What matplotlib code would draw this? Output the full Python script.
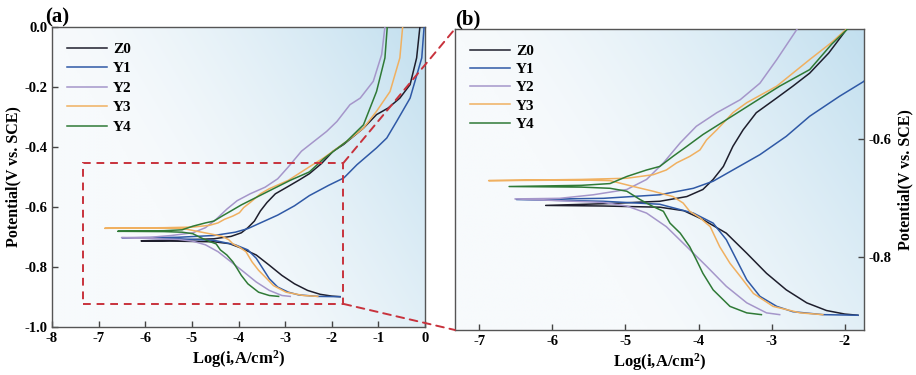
import numpy as np
import matplotlib
matplotlib.use('Agg')
import matplotlib.pyplot as plt
from matplotlib.patches import Rectangle, ConnectionPatch

plt.rcParams['font.family'] = ['Liberation Serif', 'DejaVu Serif']
plt.rcParams['font.weight'] = 'bold'
plt.rcParams['axes.labelweight'] = 'bold'
plt.rcParams['mathtext.fontset'] = 'custom'
plt.rcParams['mathtext.rm'] = 'Liberation Serif:bold'
plt.rcParams['mathtext.default'] = 'rm'

names = ['Z0', 'Y1', 'Y2', 'Y3', 'Y4']
colors = ['#1e1e2c', '#2f59a6', '#a596ca', '#f0b060', '#2f7a36']

z0_cat = [(-6.09, -0.713), (-5.3, -0.714), (-4.53, -0.716), (-4.2, -0.722), (-3.94, -0.737),
          (-3.62, -0.760), (-3.34, -0.794), (-3.07, -0.828), (-2.80, -0.856), (-2.52, -0.878),
          (-2.25, -0.891), (-2.0, -0.897), (-1.82, -0.899)]
z0_ano = [(-6.09, -0.713), (-5.26, -0.710), (-4.53, -0.706), (-4.16, -0.698), (-3.94, -0.686),
          (-3.80, -0.669), (-3.66, -0.647), (-3.53, -0.613), (-3.39, -0.585), (-3.21, -0.556),
          (-2.93, -0.531), (-2.71, -0.511), (-2.48, -0.489), (-2.22, -0.455), (-1.97, -0.414),
          (-1.75, -0.392), (-1.32, -0.337), (-1.04, -0.292), (-0.79, -0.270), (-0.54, -0.237),
          (-0.32, -0.192), (-0.18, -0.103), (-0.11, 0.0)]

y1_cat = [(-6.49, -0.703), (-5.3, -0.706), (-4.53, -0.711), (-4.07, -0.726), (-3.80, -0.743),
          (-3.62, -0.771), (-3.48, -0.805), (-3.34, -0.839), (-3.16, -0.867), (-2.93, -0.884),
          (-2.71, -0.893), (-2.3, -0.898), (-1.82, -0.899)]
y1_ano = [(-6.49, -0.703), (-5.3, -0.701), (-4.53, -0.695), (-4.07, -0.684), (-3.80, -0.672),
          (-3.53, -0.653), (-3.16, -0.627), (-2.80, -0.596), (-2.48, -0.562), (-2.07, -0.528),
          (-1.74, -0.503), (-1.46, -0.459), (-1.04, -0.403), (-0.82, -0.370), (-0.61, -0.315),
          (-0.32, -0.237), (-0.07, -0.103), (-0.02, 0.0)]

y2_cat = [(-6.51, -0.702), (-5.3, -0.708), (-4.98, -0.714), (-4.71, -0.726), (-4.44, -0.749),
          (-4.16, -0.783), (-3.89, -0.816), (-3.62, -0.850), (-3.34, -0.878), (-3.07, -0.895),
          (-2.89, -0.898)]
y2_ano = [(-6.51, -0.702), (-5.9, -0.701), (-5.44, -0.695), (-4.98, -0.686), (-4.71, -0.669),
          (-4.48, -0.641), (-4.25, -0.607), (-4.03, -0.579), (-3.75, -0.556), (-3.43, -0.534),
          (-3.16, -0.506), (-2.93, -0.466), (-2.65, -0.414), (-2.47, -0.392), (-2.11, -0.348),
          (-1.89, -0.315), (-1.61, -0.259), (-1.39, -0.237), (-1.11, -0.181), (-0.93, -0.092),
          (-0.86, 0.0)]

y3_cat = [(-6.87, -0.671), (-5.6, -0.670), (-5.21, -0.671), (-4.89, -0.681), (-4.62, -0.689),
          (-4.35, -0.698), (-4.21, -0.709), (-4.12, -0.723), (-3.98, -0.734), (-3.84, -0.749),
          (-3.71, -0.783), (-3.57, -0.811), (-3.43, -0.833), (-3.25, -0.862), (-2.98, -0.884),
          (-2.61, -0.895), (-2.30, -0.898)]
y3_ano = [(-6.87, -0.671), (-5.6, -0.669), (-4.98, -0.667), (-4.62, -0.661), (-4.44, -0.653),
          (-4.30, -0.641), (-4.12, -0.630), (-3.98, -0.619), (-3.89, -0.602), (-3.75, -0.585),
          (-3.62, -0.568), (-3.53, -0.556), (-3.34, -0.539), (-2.93, -0.511), (-2.48, -0.466),
          (-2.18, -0.437), (-1.68, -0.381), (-1.32, -0.337), (-1.04, -0.281), (-0.75, -0.215),
          (-0.54, -0.103), (-0.48, 0.0)]

y4_cat = [(-6.59, -0.681), (-5.6, -0.682), (-5.21, -0.684), (-4.98, -0.689), (-4.80, -0.703),
          (-4.62, -0.715), (-4.48, -0.723), (-4.39, -0.743), (-4.25, -0.760), (-4.12, -0.783),
          (-4.03, -0.805), (-3.94, -0.828), (-3.80, -0.856), (-3.57, -0.884), (-3.34, -0.895),
          (-3.14, -0.898)]
y4_ano = [(-6.59, -0.681), (-5.6, -0.679), (-5.21, -0.676), (-4.98, -0.664), (-4.71, -0.653),
          (-4.53, -0.647), (-4.35, -0.630), (-4.16, -0.613), (-3.94, -0.593), (-3.62, -0.568),
          (-3.25, -0.539), (-2.89, -0.511), (-2.48, -0.483), (-2.18, -0.440), (-1.68, -0.381),
          (-1.32, -0.326), (-1.04, -0.215), (-0.86, -0.103), (-0.81, 0.0)]

curves = [(z0_cat, z0_ano), (y1_cat, y1_ano), (y2_cat, y2_ano), (y3_cat, y3_ano), (y4_cat, y4_ano)]

a_xticks = [-8, -7, -6, -5, -4, -3, -2, -1, 0]
a_yticks = [-1.0, -0.8, -0.6, -0.4, -0.2, 0.0]
b_xticks = [-7, -6, -5, -4, -3, -2]
b_yticks = [-0.8, -0.6]

zoom_x = (-7.33, -1.75)
zoom_y = (-0.923, -0.453)
red = '#c8323c'


def gradient(ax):
    xx, yy = np.meshgrid(np.linspace(0, 1, 300), np.linspace(0, 1, 200))
    w = np.clip(0.95 * xx + 0.45 * yy - 0.45, 0, 1) ** 1.4
    c0 = np.array([247, 250, 252]) / 255
    c1 = np.array([190, 221, 238]) / 255
    img = c0 + (c1 - c0) * w[..., None]
    ax.imshow(img, extent=[0, 1, 0, 1], transform=ax.transAxes, origin='lower',
              aspect='auto', zorder=0, interpolation='bilinear')


def draw_curves(ax):
    for name, col, (cat, ano) in zip(names, colors, curves):
        pts = cat[::-1] + ano[1:]
        xs = [p[0] for p in pts]
        ys = [p[1] for p in pts]
        ax.plot(xs, ys, color=col, lw=1.1, label=name, zorder=3)


def set_ticks(ax, xt, yt):
    ax.set_xticks(xt)
    ax.set_xticklabels([str(v) for v in xt], fontweight='bold')
    ax.set_yticks(yt)
    ax.set_yticklabels(['%.1f' % v for v in yt], fontweight='bold')
    for s in ax.spines.values():
        s.set_color('#555555')
        s.set_linewidth(1.0)
    ax.tick_params(direction='in', length=4, width=1, labelsize=10.5, color='#444444')


fig = plt.figure(figsize=(9.16, 3.75), dpi=100)
ax_a = fig.add_axes([0.0568, 0.128, 0.4072, 0.8])
ax_b = fig.add_axes([0.4967, 0.12, 0.4463, 0.803])

# panel (a)
gradient(ax_a)
draw_curves(ax_a)
ax_a.set_xlim(-8, 0)
ax_a.set_ylim(-1.0, 0.0)
set_ticks(ax_a, a_xticks, a_yticks)
ax_a.set_xlabel(r'Log(i,A/cm$^{2}$)', fontsize=12, fontweight='bold', labelpad=2)
ax_a.set_ylabel('Potential(V vs. SCE)', fontsize=11.5, fontweight='bold', labelpad=2)
ax_a.legend(loc='upper left', frameon=False, prop={'size': 11, 'weight': 'bold'},
            handlelength=2.6, labelspacing=0.38, borderaxespad=0.6, handletextpad=0.4)
ax_a.add_patch(Rectangle((zoom_x[0], zoom_y[0]), zoom_x[1] - zoom_x[0], zoom_y[1] - zoom_y[0],
                         fill=False, ec=red, ls=(0, (4, 3)), lw=1.4, zorder=4))
fig.text(0.049, 0.94, '(a)', fontsize=15, fontweight='bold')

# panel (b)
gradient(ax_b)
draw_curves(ax_b)
ax_b.set_xlim(-7.33, -1.74)
ax_b.set_ylim(-0.924, -0.414)
ax_b.yaxis.tick_right()
ax_b.yaxis.set_label_position('right')
set_ticks(ax_b, b_xticks, b_yticks)
ax_b.set_xlabel(r'Log(i,A/cm$^{2}$)', fontsize=12, fontweight='bold', labelpad=2)
ax_b.set_ylabel('Potential(V vs. SCE)', fontsize=11.5, fontweight='bold', labelpad=4)
ax_b.legend(loc='upper left', frameon=False, prop={'size': 11, 'weight': 'bold'},
            handlelength=2.6, labelspacing=0.3, borderaxespad=0.6, handletextpad=0.4)
fig.text(0.497, 0.935, '(b)', fontsize=15, fontweight='bold')

for ya, yb in ((zoom_y[1], 1), (zoom_y[0], 0)):
    con = ConnectionPatch(xyA=(zoom_x[1], ya), coordsA=ax_a.transData,
                          xyB=(0, yb), coordsB=ax_b.transAxes,
                          color=red, ls=(0, (4, 3)), lw=1.4, zorder=5)
    fig.add_artist(con)

fig.savefig('out.png', dpi=100)
